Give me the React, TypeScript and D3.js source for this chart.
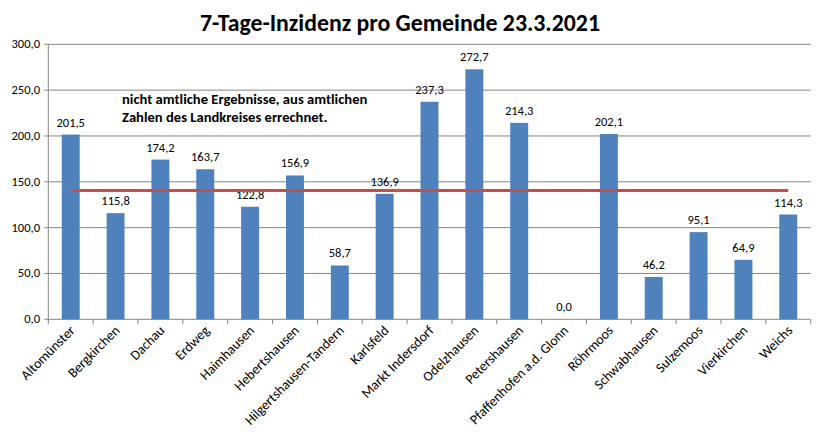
import React from "react";
import * as d3 from "d3";

const categories = [
  "Altomünster", "Bergkirchen", "Dachau", "Erdweg", "Haimhausen", "Hebertshausen",
  "Hilgertshausen-Tandern", "Karlsfeld", "Markt Indersdorf", "Odelzhausen", "Petershausen",
  "Pfaffenhofen a.d. Glonn", "Röhrmoos", "Schwabhausen", "Sulzemoos", "Vierkirchen", "Weichs",
];
const values = [201.5, 115.8, 174.2, 163.7, 122.8, 156.9, 58.7, 136.9, 237.3, 272.7, 214.3, 0.0, 202.1, 46.2, 95.1, 64.9, 114.3];
const referenceValue = 140.5;
const yTicks = [0, 50, 100, 150, 200, 250, 300];
const title = "7-Tage-Inzidenz pro Gemeinde 23.3.2021";
const note = ["nicht amtliche Ergebnisse, aus amtlichen", "Zahlen des Landkreises errechnet."];

const W = 823;
const H = 447;
const left = 48.3;
const right = 810.7;
const top = 44.3;
const bottom = 319.3;
const font = "Carlito, Calibri, 'Open Sans', sans-serif";

const fmt = (v: number) => d3.format(".1f")(v).replace(".", ",");

export default function App() {
  const x = d3.scaleBand<string>().domain(categories).range([left, right]).paddingInner(0.6).paddingOuter(0.3);
  const y = d3.scaleLinear().domain([0, 300]).range([bottom, top]);
  const step = x.step();
  const bw = x.bandwidth();
  const center = (c: string) => (x(c) ?? 0) + bw / 2;

  return (
    <svg width={W} height={H} style={{ position: "absolute", left: 0, top: 0, background: "#fff" }} fontFamily={font}>
      <text x={400} y={31} textAnchor="middle" fontSize={23.8} fontWeight="bold" fill="#000">{title}</text>

      {yTicks.map((t) => (
        <g key={t}>
          <line x1={left - 4} x2={right} y1={y(t)} y2={y(t)} stroke="#868686" strokeWidth={1} />
          <text x={40} y={y(t) + 4} textAnchor="end" fontSize={12.5} fill="#000">{fmt(t)}</text>
        </g>
      ))}
      <line x1={left} x2={left} y1={top} y2={bottom} stroke="#868686" />

      {d3.range(categories.length + 1).map((i) => (
        <line key={i} x1={left + i * step} x2={left + i * step} y1={bottom} y2={bottom + 5} stroke="#868686" />
      ))}

      {categories.map((c, i) => (
        <g key={c}>
          <rect x={x(c)} y={y(values[i])} width={bw} height={bottom - y(values[i])} fill="#4F81BD" />
          <text x={center(c)} y={y(values[i]) - 8} textAnchor="middle" fontSize={12.5} fill="#000">{fmt(values[i])}</text>
          <text
            transform={`translate(${center(c) + 5},${bottom + 12}) rotate(-45)`}
            textAnchor="end"
            fontSize={13.8}
            fill="#000"
          >{c}</text>
        </g>
      ))}

      <line
        x1={center(categories[0])}
        x2={center(categories[categories.length - 1])}
        y1={y(referenceValue)}
        y2={y(referenceValue)}
        stroke="#C0504D"
        strokeWidth={3}
      />

      {note.map((n, i) => (
        <text key={i} x={122} y={104 + i * 17.5} fontSize={14.6} fontWeight="bold" fill="#000">{n}</text>
      ))}
    </svg>
  );
}
